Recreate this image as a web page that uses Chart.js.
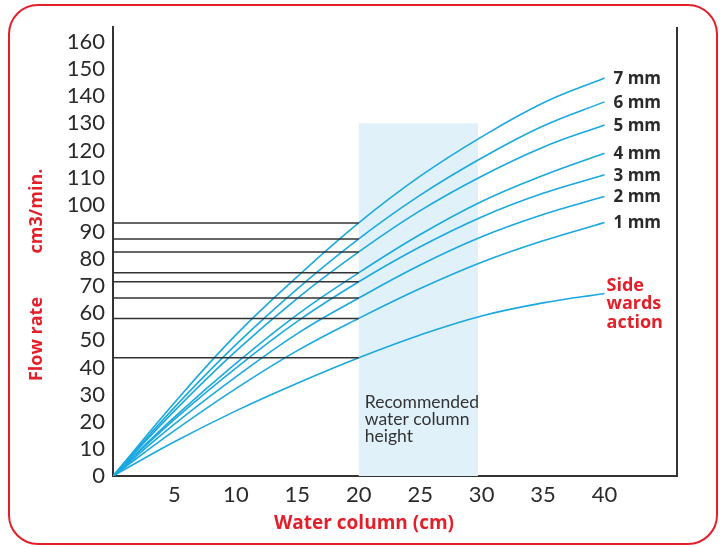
<!DOCTYPE html>
<html>
<head>
<meta charset="utf-8">
<script src="https://cdn.jsdelivr.net/npm/chart.js@4.4.1/dist/chart.umd.min.js"></script>
<style>
  html, body { margin: 0; padding: 0; background: #fff; }
  #wrap { position: relative; width: 723px; height: 547px; }
  #frame { position: absolute; left: 8px; top: 4px; width: 706px; height: 537px;
           border: 2.5px solid #e3202a; border-radius: 30px; }
  canvas { position: absolute; left: 0; top: 0; }
</style>
</head>
<body>
<div id="wrap">
  <div id="frame"></div>
  <canvas id="c" width="723" height="547"></canvas>
</div>
<script>
// ---- data ----
const waterColumn = [0, 5, 10, 15, 20, 25, 30, 35, 40];
const flow7mm = [0, 27, 52, 73.5, 93.3, 110.5, 125, 137.5, 146.7];
const flow6mm = [0, 25.3, 48.4, 69, 87.4, 103.5, 117.2, 129, 137.9];
const flow5mm = [0, 24, 46, 65.5, 82.6, 97.8, 110.5, 121.2, 129.4];
const flow4mm = [0, 21.7, 41.5, 59.5, 74.9, 89, 101.2, 110.8, 119];
const flow3mm = [0, 20.9, 39.8, 57, 71.6, 84.5, 95.5, 104.2, 111];
const flow2mm = [0, 19.1, 36.5, 52.5, 65.6, 77.8, 88.2, 96.4, 103];
const flow1mm = [0, 16.7, 32.2, 46.2, 58.1, 69.1, 78.8, 86.7, 93.4];
const flowSide = [0, 12.6, 24, 34.2, 43.6, 52, 59, 63.8, 67.3];
const curveLabels = ['7 mm', '6 mm', '5 mm', '4 mm', '3 mm', '2 mm', '1 mm'];
const sideLabel = ['Side', 'wards', 'action'];
const refLineX = [0, 20];
const refLevels = [93.3, 87.4, 82.6, 74.9, 71.6, 65.6, 58.1, 43.6];
const recommendedX = [20, 29.7];
const recommendedTop = 130;
const recommendedText = ['Recommended', 'water column', 'height'];
const xTicks = [5, 10, 15, 20, 25, 30, 35, 40];
const yTicks = [0, 10, 20, 30, 40, 50, 60, 70, 80, 90, 100, 110, 120, 130, 140, 150, 160];
const xTitle = 'Water column (cm)';
const yTitleA = 'Flow rate';
const yTitleB = 'cm3/min.';

// ---- build ----
const BLUE = '#1aa8e0';
const RED = '#e3202a';
const DARK = '#2a2a2a';
const curves = [flow7mm, flow6mm, flow5mm, flow4mm, flow3mm, flow2mm, flow1mm, flowSide];
const datasets = [];
refLevels.forEach(v => {
  datasets.push({
    data: refLineX.map(x => ({x: x, y: v})),
    borderColor: '#333', borderWidth: 1.5, pointRadius: 0, tension: 0
  });
});
curves.forEach((arr, i) => {
  datasets.push({
    data: waterColumn.map((x, j) => ({x: x, y: arr[j]})),
    borderColor: BLUE, borderWidth: 1.6, pointRadius: 0, tension: 0.4
  });
});

const decor = {
  id: 'decor',
  beforeDatasetsDraw(chart) {
    const {ctx, scales: {x, y}} = chart;
    const x0 = x.getPixelForValue(recommendedX[0]);
    const x1 = x.getPixelForValue(recommendedX[1]);
    const yt = y.getPixelForValue(recommendedTop);
    const yb = y.getPixelForValue(0);
    ctx.save();
    ctx.fillStyle = '#e1f1fa';
    ctx.fillRect(x0, yt, x1 - x0, yb - yt);
    ctx.fillStyle = '#333';
    ctx.font = '17.5px Lato';
    ctx.textBaseline = 'middle';
    ctx.textAlign = 'left';
    recommendedText.forEach((t, i) => ctx.fillText(t, x0 + 6, 402 + i * 17.3));
    ctx.restore();
  },
  afterDraw(chart) {
    const {ctx, chartArea, scales: {x, y}} = chart;
    ctx.save();
    ctx.strokeStyle = '#333';
    ctx.lineWidth = 2;
    ctx.beginPath();
    ctx.moveTo(chartArea.right, chartArea.top);
    ctx.lineTo(chartArea.right, chartArea.bottom + 1);
    ctx.stroke();
    const lastX = waterColumn[waterColumn.length - 1];
    ctx.textBaseline = 'middle';
    ctx.textAlign = 'left';
    ctx.font = 'bold 17px "Open Sans"';
    ctx.fillStyle = DARK;
    curveLabels.forEach((t, i) => {
      const arr = curves[i];
      const px = x.getPixelForValue(lastX) + 9;
      const py = y.getPixelForValue(arr[arr.length - 1]) + 1;
      ctx.fillText(t, px, py);
    });
    ctx.fillStyle = RED;
    ctx.font = 'bold 18px "Open Sans"';
    const sx = x.getPixelForValue(lastX) + 2;
    const sy = y.getPixelForValue(flowSide[flowSide.length - 1]) - 8;
    sideLabel.forEach((t, i) => ctx.fillText(t, sx, sy + i * 18.5));
    ctx.font = 'bold 19px "Open Sans"';
    ctx.textAlign = 'center';
    ctx.fillText(xTitle, 364, 524);
    ctx.font = 'bold 18px "Open Sans"';
    ctx.translate(37, 0);
    ctx.rotate(-Math.PI / 2);
    ctx.fillText(yTitleA, -339, 0);
    ctx.fillText(yTitleB, -211, 0);
    ctx.restore();
  }
};

new Chart(document.getElementById('c'), {
  type: 'line',
  data: { datasets },
  options: {
    responsive: false,
    animation: false,
    layout: { padding: { left: 0, top: 27, right: 46, bottom: 0 } },
    plugins: { legend: { display: false }, tooltip: { enabled: false } },
    scales: {
      x: {
        type: 'linear', min: 0, max: 45.9,
        grid: { display: false, drawTicks: false },
        border: { display: true, color: '#333', width: 2 },
        afterBuildTicks: s => { s.ticks = xTicks.map(v => ({value: v})); },
        afterFit: s => { s.height = 71; },
        ticks: { color: DARK, font: { family: 'Lato', size: 22 }, padding: 6, maxRotation: 0, autoSkip: false }
      },
      y: {
        type: 'linear', min: 0, max: 165.5,
        grid: { display: false, drawTicks: false },
        border: { display: true, color: '#333', width: 2 },
        afterBuildTicks: s => { s.ticks = yTicks.map(v => ({value: v})); },
        afterFit: s => { s.width = 113; },
        ticks: { color: DARK, font: { family: 'Lato', size: 22 }, padding: 8, autoSkip: false }
      }
    }
  },
  plugins: [decor]
});
</script>
</body>
</html>
